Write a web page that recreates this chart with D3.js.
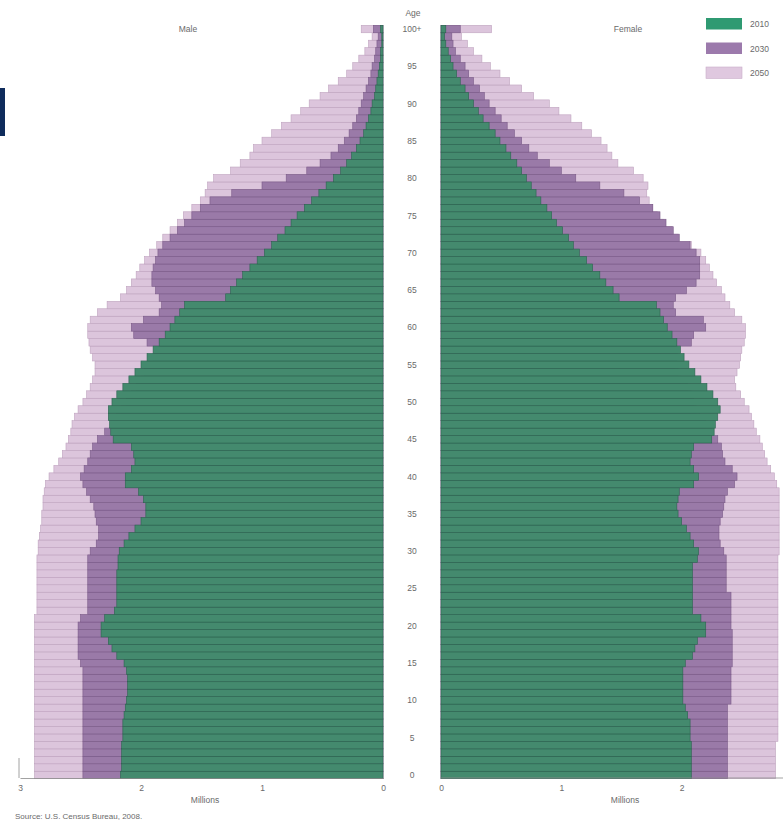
<!DOCTYPE html>
<html><head><meta charset="utf-8">
<script src="https://cdn.jsdelivr.net/npm/d3@7"></script>
<style>
html,body{margin:0;padding:0;background:#fff;}
svg{display:block;font-family:"Liberation Sans",Arial,sans-serif;}
.lbl{fill:#6a6a6a;font-size:8.5px;}
</style></head><body>
<svg id="c" width="783" height="822"></svg>
<script>
// ages 0..100 (100 = "100+")
const ages = d3.range(0, 101);
const ageTicks = d3.range(0, 101, 5);
const years = ["2010", "2030", "2050"];
const maleTicks = [3, 2, 1, 0];
const femaleTicks = [0, 1, 2];

// Millions, index = age
const male2010 = [2.17,2.16,2.16,2.16,2.16,2.15,2.15,2.15,2.14,2.13,
 2.12,2.11,2.11,2.11,2.12,2.14,2.20,2.24,2.27,2.33,
 2.33,2.30,2.22,2.20,2.20,2.20,2.20,2.20,2.19,2.19,
 2.18,2.14,2.10,2.05,2.00,1.96,1.96,1.98,2.02,2.13,
 2.13,2.08,2.05,2.06,2.08,2.23,2.25,2.26,2.27,2.27,
 2.24,2.20,2.15,2.10,2.05,2.00,1.95,1.90,1.85,1.80,
 1.76,1.72,1.68,1.64,1.30,1.26,1.21,1.16,1.10,1.04,
 0.98,0.92,0.87,0.81,0.76,0.71,0.65,0.59,0.53,0.47,
 0.41,0.35,0.30,0.26,0.22,0.19,0.16,0.14,0.12,0.10,
 0.09,0.07,0.06,0.05,0.04,0.03,0.02,0.02,0.01,0.01,0.02];
const male2030 = [2.48,2.48,2.48,2.48,2.48,2.48,2.48,2.48,2.48,2.48,
 2.48,2.48,2.48,2.48,2.48,2.50,2.52,2.52,2.52,2.52,
 2.52,2.50,2.44,2.44,2.44,2.44,2.44,2.44,2.44,2.44,
 2.42,2.37,2.35,2.35,2.37,2.38,2.39,2.42,2.45,2.48,
 2.50,2.47,2.44,2.42,2.40,2.36,2.30,2.25,2.20,2.16,
 2.12,2.08,2.04,2.00,1.97,1.93,1.90,1.88,1.95,2.06,
 2.08,1.98,1.85,1.83,1.85,1.88,1.91,1.91,1.90,1.88,
 1.86,1.82,1.76,1.70,1.64,1.58,1.51,1.43,1.25,1.00,
 0.80,0.63,0.52,0.43,0.37,0.32,0.28,0.25,0.22,0.20,
 0.18,0.16,0.14,0.12,0.10,0.09,0.07,0.06,0.05,0.04,0.08];
const male2050 = [2.88,2.88,2.88,2.88,2.88,2.88,2.88,2.88,2.88,2.88,
 2.88,2.88,2.88,2.88,2.88,2.88,2.88,2.88,2.88,2.88,
 2.88,2.88,2.86,2.86,2.86,2.86,2.86,2.86,2.86,2.86,
 2.85,2.85,2.84,2.83,2.82,2.82,2.81,2.81,2.80,2.79,
 2.76,2.72,2.68,2.65,2.62,2.60,2.58,2.57,2.55,2.52,
 2.48,2.45,2.42,2.40,2.38,2.38,2.40,2.42,2.43,2.44,
 2.44,2.42,2.36,2.28,2.17,2.12,2.08,2.04,2.01,1.97,
 1.93,1.87,1.82,1.76,1.70,1.65,1.58,1.51,1.47,1.45,
 1.40,1.26,1.18,1.10,1.07,1.00,0.92,0.84,0.76,0.68,
 0.61,0.52,0.45,0.37,0.30,0.25,0.20,0.15,0.12,0.09,0.18];
const female2010 = [2.08,2.08,2.08,2.08,2.08,2.07,2.07,2.07,2.05,2.03,
 2.01,2.01,2.01,2.01,2.01,2.03,2.09,2.11,2.13,2.20,
 2.20,2.16,2.09,2.09,2.09,2.09,2.09,2.09,2.09,2.13,
 2.14,2.10,2.07,2.04,2.00,1.97,1.96,1.97,1.98,2.10,
 2.14,2.10,2.07,2.08,2.10,2.25,2.27,2.28,2.30,2.32,
 2.30,2.26,2.21,2.16,2.11,2.06,2.02,1.99,1.96,1.92,
 1.88,1.85,1.82,1.79,1.48,1.43,1.37,1.32,1.26,1.21,
 1.15,1.10,1.06,1.01,0.96,0.92,0.88,0.83,0.79,0.75,
 0.71,0.67,0.63,0.58,0.54,0.49,0.45,0.40,0.35,0.31,
 0.27,0.23,0.20,0.16,0.13,0.10,0.08,0.06,0.04,0.03,0.04];
const female2030 = [2.38,2.38,2.38,2.38,2.38,2.38,2.38,2.38,2.38,2.38,
 2.41,2.41,2.41,2.41,2.41,2.42,2.42,2.42,2.42,2.42,
 2.41,2.41,2.41,2.41,2.41,2.37,2.37,2.37,2.37,2.37,
 2.35,2.32,2.31,2.31,2.32,2.34,2.35,2.36,2.38,2.44,
 2.46,2.42,2.36,2.34,2.33,2.30,2.25,2.20,2.15,2.12,
 2.10,2.08,2.05,2.00,1.97,1.95,1.96,1.97,2.08,2.10,
 2.20,2.18,1.95,1.93,1.95,2.04,2.12,2.15,2.15,2.15,
 2.12,2.07,1.98,1.93,1.87,1.82,1.76,1.65,1.52,1.32,
 1.12,1.00,0.90,0.80,0.73,0.67,0.61,0.55,0.50,0.45,
 0.40,0.36,0.32,0.27,0.23,0.20,0.16,0.12,0.10,0.09,0.16];
const female2050 = [2.78,2.78,2.78,2.78,2.78,2.80,2.80,2.80,2.80,2.80,
 2.80,2.80,2.80,2.80,2.80,2.80,2.80,2.80,2.80,2.80,
 2.80,2.80,2.80,2.80,2.80,2.80,2.80,2.80,2.80,2.80,
 2.81,2.81,2.81,2.81,2.81,2.81,2.81,2.81,2.81,2.79,
 2.77,2.74,2.71,2.69,2.67,2.65,2.62,2.60,2.58,2.56,
 2.52,2.49,2.45,2.44,2.46,2.48,2.49,2.50,2.52,2.53,
 2.53,2.50,2.44,2.40,2.36,2.33,2.29,2.26,2.23,2.20,
 2.16,2.08,1.97,1.92,1.85,1.80,1.76,1.73,1.71,1.72,
 1.68,1.60,1.47,1.42,1.38,1.33,1.25,1.17,1.08,0.98,
 0.90,0.77,0.67,0.57,0.49,0.41,0.34,0.27,0.22,0.17,0.42];

const fills = {"2010": "#448a6e", "2030": "#9a7aa8", "2050": "#dcc5dc"};
const strokes = {"2010": "#2c6450", "2030": "#7a5a88", "2050": "#bfa3bf"};
const legendFills = {"2010": "#2f9a72", "2030": "#9c7aac", "2050": "#dfc8df"};

const svg = d3.select("#c");

// decorative navy block at left edge
svg.append("rect").attr("x", 0).attr("y", 88).attr("width", 5).attr("height", 48).attr("fill", "#0f2c5c");

const y = d3.scaleBand().domain(ages.slice().reverse()).range([25.3, 778.7]).padding(0);
const xM = d3.scaleLinear().domain([0, 3]).range([383, 20]);
const xF = d3.scaleLinear().domain([0, 3]).range([441, 802]);

const maleSeries = {"2010": male2010, "2030": male2030, "2050": male2050};
const femaleSeries = {"2010": female2010, "2030": female2030, "2050": female2050};

["2050", "2030", "2010"].forEach(yr => {
  const gm = svg.append("g");
  gm.selectAll("rect").data(ages).join("rect")
    .attr("x", a => xM(maleSeries[yr][a]))
    .attr("width", a => xM(0) - xM(maleSeries[yr][a]))
    .attr("y", a => y(a))
    .attr("height", y.bandwidth())
    .attr("fill", fills[yr])
    .attr("stroke", strokes[yr]).attr("stroke-width", 0.6);
  const gf = svg.append("g");
  gf.selectAll("rect").data(ages).join("rect")
    .attr("x", xF(0))
    .attr("width", a => xF(femaleSeries[yr][a]) - xF(0))
    .attr("y", a => y(a))
    .attr("height", y.bandwidth())
    .attr("fill", fills[yr])
    .attr("stroke", strokes[yr]).attr("stroke-width", 0.6);
});

// axes
const axM = d3.axisBottom(xM).tickValues(maleTicks).tickSize(0).tickPadding(7).tickFormat(d3.format("d"));
const axF = d3.axisBottom(xF).tickValues(femaleTicks).tickSize(0).tickPadding(7).tickFormat(d3.format("d"));
const gM = svg.append("g").attr("transform", "translate(0,778)").call(axM);
const gF = svg.append("g").attr("transform", "translate(0,778)").call(axF);
[gM, gF].forEach(g => {
  g.select(".domain").attr("stroke", "#8a8a8a").attr("stroke-width", 0.8);
  g.selectAll("text").attr("class", "lbl").attr("fill", "#6a6a6a").style("font-size", "8.5px");
});
gF.select(".domain").attr("d", `M${xF(0)},0H783`);
svg.append("line").attr("x1", 19).attr("x2", 19).attr("y1", 758).attr("y2", 778)
  .attr("stroke", "#8a8a8a").attr("stroke-width", 0.8);

// age labels
svg.append("g").selectAll("text").data(ageTicks).join("text")
  .attr("class", "lbl").attr("x", 412).attr("y", a => y(a) + y.bandwidth() / 2 + 3)
  .attr("text-anchor", "middle").text(a => a === 100 ? "100+" : a);
svg.append("text").attr("class", "lbl").attr("x", 413).attr("y", 16).attr("text-anchor", "middle").text("Age");

svg.append("text").attr("class", "lbl").attr("x", 188).attr("y", 32).attr("text-anchor", "middle").text("Male");
svg.append("text").attr("class", "lbl").attr("x", 628).attr("y", 32).attr("text-anchor", "middle").text("Female");

svg.append("text").attr("class", "lbl").attr("x", 205).attr("y", 803).attr("text-anchor", "middle").text("Millions");
svg.append("text").attr("class", "lbl").attr("x", 625).attr("y", 803).attr("text-anchor", "middle").text("Millions");
svg.append("text").attr("class", "lbl").attr("x", 15).attr("y", 819).style("font-size", "8px").text("Source: U.S. Census Bureau, 2008.");

// legend
const lg = svg.append("g");
years.forEach((yr, i) => {
  lg.append("rect").attr("x", 706).attr("y", 18 + i * 24.5).attr("width", 36).attr("height", 11.5)
    .attr("fill", legendFills[yr]).attr("stroke", yr === "2050" ? "#c9adc9" : "none").attr("stroke-width", 0.6);
  lg.append("text").attr("class", "lbl").attr("x", 750).attr("y", 18 + i * 24.5 + 9).text(yr);
});
</script>
</body></html>
